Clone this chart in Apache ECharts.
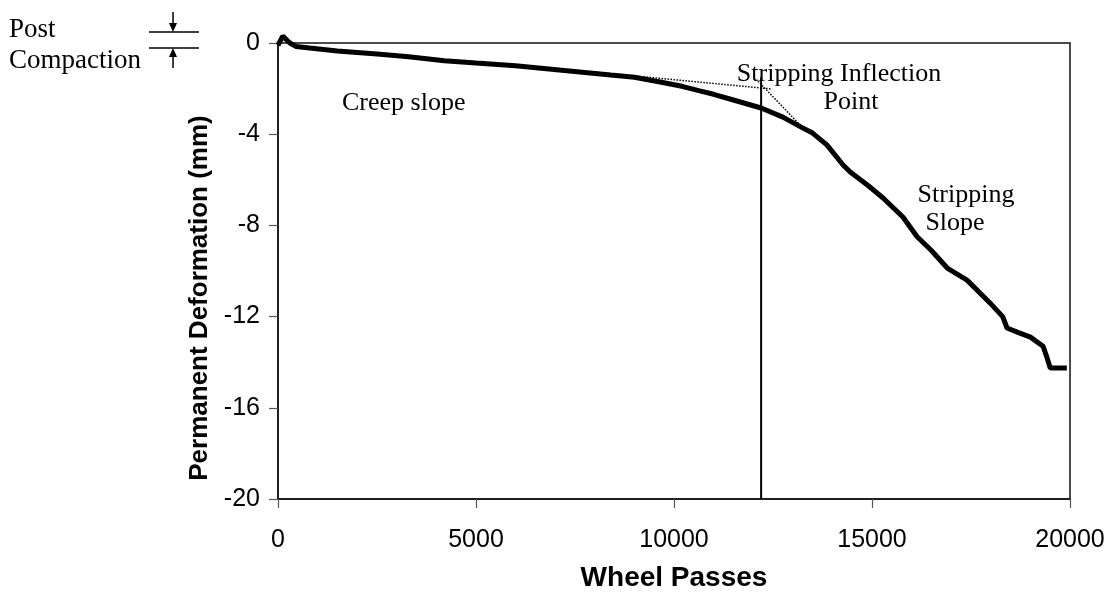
<!DOCTYPE html>
<html>
<head>
<meta charset="utf-8">
<script src="https://cdn.jsdelivr.net/npm/echarts@6/dist/echarts.min.js"></script>
<style>
  html, body { margin: 0; padding: 0; background: #fff; }
  #chart { width: 1110px; height: 607px; }
</style>
</head>
<body>
<div id="chart"></div>
<script>
// Wheel passes for the measured rut-depth curve
const passes = [0, 120, 300, 450, 800, 1500, 2500, 3300, 4200, 5000, 6000, 7100, 8400, 9000, 9650,
  10200, 10650, 11000, 11500, 12200, 12750, 13200, 13500, 13860, 14270, 14450, 14900, 15280, 15780,
  16140, 16500, 16900, 17400, 17980, 18300, 18410, 18700, 19000, 19320, 19420, 19500, 19920];
// Permanent deformation (mm) at each pass count
const deformation = [-0.1, 0.3, 0.0, -0.15, -0.22, -0.35, -0.48, -0.6, -0.78, -0.88, -1.0, -1.18, -1.4, -1.5, -1.71,
  -1.9, -2.1, -2.25, -2.5, -2.85, -3.25, -3.68, -3.95, -4.47, -5.35, -5.66, -6.25, -6.8, -7.63,
  -8.5, -9.1, -9.87, -10.4, -11.4, -12.0, -12.5, -12.7, -12.9, -13.3, -13.8, -14.25, -14.25];

// Tangent to the creep portion
const creepTangentX = [7950, 12480];
const creepTangentY = [-1.27, -2.02];
// Tangent to the stripping portion
const stripTangentX = [12120, 13330];
const stripTangentY = [-1.67, -3.86];
// Inflection marker
const inflectionX = [12200, 12200];
const inflectionY = [-1.5, -20];

const xTicks = [0, 5000, 10000, 15000, 20000];
const yTicks = [0, -4, -8, -12, -16, -20];

const zip = (a, b) => a.map((v, i) => [v, b[i]]);

const chart = echarts.init(document.getElementById('chart'), null, { renderer: 'canvas' });

const serif = 'Liberation Serif, Times New Roman, serif';
const sans = 'Liberation Sans, Arial, sans-serif';

chart.setOption({
  animation: false,
  backgroundColor: '#fff',
  grid: {
    left: 278, right: 40, top: 43, bottom: 108,
    show: true, borderColor: '#111', borderWidth: 1.5, backgroundColor: 'transparent'
  },
  xAxis: {
    type: 'value',
    min: xTicks[0], max: xTicks[xTicks.length - 1], interval: 5000,
    name: 'Wheel Passes',
    nameLocation: 'middle',
    nameGap: 65,
    nameTextStyle: { fontFamily: sans, fontWeight: 'bold', fontSize: 28, color: '#000' },
    axisLine: { show: true, onZero: false, lineStyle: { color: '#111', width: 1.5 } },
    axisTick: { show: true, inside: false, length: 9, lineStyle: { color: '#555', width: 1.2 } },
    axisLabel: { fontFamily: sans, fontSize: 25, color: '#000', margin: 29,
                 formatter: v => String(v) },
    splitLine: { show: false }
  },
  yAxis: {
    type: 'value',
    min: yTicks[yTicks.length - 1], max: yTicks[0], interval: 4,
    axisLine: { show: true, onZero: false, lineStyle: { color: '#111', width: 1.5 } },
    axisTick: { show: true, inside: false, length: 9, lineStyle: { color: '#555', width: 1.2 } },
    axisLabel: { fontFamily: sans, fontSize: 25, color: '#000', margin: 18,
                 formatter: v => String(v) },
    splitLine: { show: false }
  },
  series: [
    {
      type: 'line', data: zip(passes, deformation), showSymbol: false, symbol: 'none', clip: false,
      lineStyle: { color: '#000', width: 5 }, z: 5
    },
    {
      type: 'line', data: zip(creepTangentX, creepTangentY), symbol: 'none',
      lineStyle: { color: '#000', width: 1.5, type: [1.5, 1.5] }, z: 4
    },
    {
      type: 'line', data: zip(stripTangentX, stripTangentY), symbol: 'none',
      lineStyle: { color: '#000', width: 1.5, type: [1.5, 1.5] }, z: 4
    },
    {
      type: 'line', data: zip(inflectionX, inflectionY), symbol: 'none',
      lineStyle: { color: '#000', width: 2 }, z: 6
    }
  ],
  graphic: [
    {
      type: 'text', x: 200, y: 298, rotation: Math.PI / 2,
      style: { text: 'Permanent Deformation (mm)', font: 'bold 26px ' + sans, fill: '#000',
               textAlign: 'center', textVerticalAlign: 'middle' }
    },
    { type: 'text', x: 342, y: 103,
      style: { text: 'Creep slope', font: '26px ' + serif, fill: '#000', textVerticalAlign: 'middle' } },
    { type: 'text', x: 839, y: 74,
      style: { text: 'Stripping Inflection', font: '26px ' + serif, fill: '#000', textAlign: 'center', textVerticalAlign: 'middle' } },
    { type: 'text', x: 851, y: 102,
      style: { text: 'Point', font: '26px ' + serif, fill: '#000', textAlign: 'center', textVerticalAlign: 'middle' } },
    { type: 'text', x: 966, y: 195,
      style: { text: 'Stripping', font: '26px ' + serif, fill: '#000', textAlign: 'center', textVerticalAlign: 'middle' } },
    { type: 'text', x: 955, y: 223,
      style: { text: 'Slope', font: '26px ' + serif, fill: '#000', textAlign: 'center', textVerticalAlign: 'middle' } },
    { type: 'text', x: 9, y: 30,
      style: { text: 'Post', font: '27px ' + serif, fill: '#000', textVerticalAlign: 'middle' } },
    { type: 'text', x: 9, y: 61,
      style: { text: 'Compaction', font: '27px ' + serif, fill: '#000', textVerticalAlign: 'middle' } },
    // post-compaction gap symbol
    { type: 'line', shape: { x1: 149, y1: 32, x2: 199, y2: 32 }, style: { stroke: '#000', lineWidth: 1.5 } },
    { type: 'line', shape: { x1: 149, y1: 48, x2: 199, y2: 48 }, style: { stroke: '#000', lineWidth: 1.5 } },
    { type: 'line', shape: { x1: 173, y1: 12, x2: 173, y2: 26 }, style: { stroke: '#000', lineWidth: 1.5 } },
    { type: 'polygon', shape: { points: [[169, 23], [177, 23], [173, 32]] }, style: { fill: '#000' } },
    { type: 'line', shape: { x1: 173, y1: 54, x2: 173, y2: 68 }, style: { stroke: '#000', lineWidth: 1.5 } },
    { type: 'polygon', shape: { points: [[169, 57], [177, 57], [173, 48]] }, style: { fill: '#000' } }
  ]
});
</script>
</body>
</html>
